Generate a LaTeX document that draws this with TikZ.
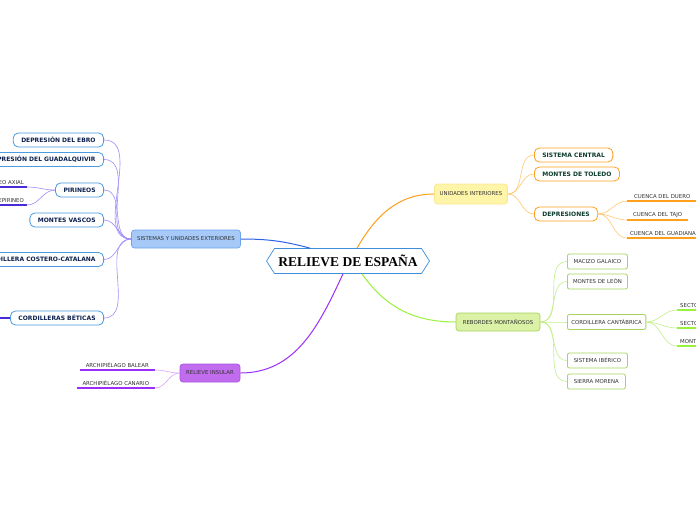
\documentclass[tikz,border=0pt]{standalone}
\usepackage{fontspec}
\setmainfont{DejaVu Sans}
\newfontfamily\titlefont{Liberation Serif}
\usetikzlibrary{shapes.symbols}
\definecolor{rootc}{HTML}{3C8ED8}
\definecolor{navy}{HTML}{0B1F4D}
\definecolor{sistfill}{HTML}{A6C9F7}
\definecolor{sistline}{HTML}{6FA3EE}
\definecolor{sistlink}{HTML}{2F62E8}
\definecolor{sistsub}{HTML}{4A9BE0}
\definecolor{sistthin}{HTML}{A08CFA}
\definecolor{sistleaf}{HTML}{4B2AD8}
\definecolor{intfill}{HTML}{FFF5A8}
\definecolor{intline}{HTML}{FBE690}
\definecolor{orange}{HTML}{FF9F1A}
\definecolor{orthin}{HTML}{FFC870}
\definecolor{dgreen}{HTML}{0D3B2E}
\definecolor{rebfill}{HTML}{DAF1A6}
\definecolor{rebline}{HTML}{A6D45E}
\definecolor{reblink}{HTML}{9BF23C}
\definecolor{rebthin}{HTML}{C4EE8A}
\definecolor{insfill}{HTML}{C16CEF}
\definecolor{insline}{HTML}{A956E2}
\definecolor{inslink}{HTML}{9A2EFA}
\definecolor{insthin}{HTML}{D8A3F5}
\definecolor{leaftxt}{HTML}{333333}
\tikzset{
  root/.style={signal, signal to=west and east, signal pointer angle=115, draw=rootc,
               line width=0.7pt, fill=white, minimum height=25pt, minimum width=163pt,
               inner sep=2pt, font=\titlefont\bfseries\fontsize{13.5}{14}\selectfont},
  topic/.style n args={2}{draw=#1, fill=#2, rounded corners=3pt, line width=0.7pt,
               minimum height=18pt, inner xsep=3pt, text=leaftxt,
               font=\fontsize{5.4}{6}\selectfont},
  sub/.style={draw=#1, fill=white, rounded corners=5pt, line width=0.8pt,
              minimum height=14pt, inner xsep=8pt, font=\bfseries\fontsize{6}{7}\selectfont},
  subr/.style={draw=rebline, fill=white, rounded corners=2pt, line width=0.8pt,
               minimum height=15pt, minimum width=60pt, inner xsep=4pt, text=leaftxt,
               font=\fontsize{5.4}{6}\selectfont},
  leaf/.style={inner xsep=3pt, inner ysep=2pt, text=leaftxt, font=\fontsize{5.4}{6}\selectfont},
  uline/.style={draw=#1, line width=1.4pt},
  link/.style={draw=#1, line width=0.6pt},
  mainlink/.style={draw=#1, line width=1pt},
}

\begin{document}
\begin{tikzpicture}[x=1pt, y=-1pt]
\useasboundingbox (0,0) rectangle (696,520);
\fill[white] (0,0) rectangle (696,520);
\clip (0,0) rectangle (696,520);

% centre
\node[root] (root) at (348,261) {RELIEVE DE ESPAÑA};

% main topics
\node[topic={sistline}{sistfill}, minimum width=109pt] (sistemas) at (186,239) {SISTEMAS Y UNIDADES EXTERIORES};
\node[topic={intline}{intfill}, minimum width=73pt, minimum height=20pt] (interiores) at (471,194) {UNIDADES INTERIORES};
\node[topic={rebline}{rebfill}, minimum width=84pt] (rebordes) at (498,322) {REBORDES MONTAÑOSOS};
\node[topic={insline}{insfill}, minimum width=60pt] (insular) at (210,373) {RELIEVE INSULAR};

\draw[mainlink=sistlink] ([xshift=-38pt]root.north) to[out=165,in=0] (sistemas.east);
\draw[mainlink=orange] ([xshift=9pt]root.north) to[out=60,in=180] (interiores.west);
\draw[mainlink=reblink] ([xshift=14pt]root.south) to[out=-55,in=180] (rebordes.west);
\draw[mainlink=inslink] ([xshift=-5pt]root.south) to[out=-115,in=0] (insular.east);

% sistemas y unidades exteriores
\node[sub=sistsub, text=navy, anchor=east] (ebro) at (104,140) {DEPRESIÓN DEL EBRO};
\node[sub=sistsub, text=navy, anchor=east] (guadalq) at (104,159.5) {DEPRESIÓN DEL GUADALQUIVIR};
\node[sub=sistsub, text=navy, anchor=east] (pirineos) at (104,190) {PIRINEOS};
\node[sub=sistsub, text=navy, anchor=east] (vascos) at (104,220) {MONTES VASCOS};
\node[sub=sistsub, text=navy, anchor=east] (costero) at (104,259.5) {CORDILLERA COSTERO-CATALANA};
\node[sub=sistsub, text=navy, anchor=east] (beticas) at (104,318) {CORDILLERAS BÉTICAS};
\foreach \n in {ebro,guadalq,pirineos,vascos,costero,beticas}
  \draw[link=sistthin] (sistemas.west) to[out=180,in=0] (\n.east);

\node[leaf, anchor=south east] (axial) at (27,187) {PIRINEO AXIAL};
\node[leaf, anchor=south east] (prepir) at (27,205) {PREPIRINEO};
\coordinate (betleaf) at (-30,318);
\foreach \n in {axial,prepir}{
  \draw[uline=sistleaf] (\n.south west) -- (\n.south east);
  \draw[link=sistthin] (pirineos.west) to[out=180,in=0] (\n.south east);
}
\draw[uline=sistleaf] (beticas.west) -- (betleaf);

% unidades interiores
\node[sub=orange, text=dgreen, anchor=west] (central) at (534,155) {SISTEMA CENTRAL};
\node[sub=orange, text=dgreen, anchor=west] (toledo) at (534,174) {MONTES DE TOLEDO};
\node[sub=orange, text=dgreen, anchor=west] (depres) at (534,214) {DEPRESIONES};
\foreach \n in {central,toledo,depres}
  \draw[link=orthin] (interiores.east) to[out=0,in=180] (\n.west);

\node[leaf, anchor=south west, minimum width=70pt, align=left] (duero) at (627,201) {CUENCA DEL DUERO\hfill};
\node[leaf, anchor=south west, minimum width=61pt] (tajo) at (627,220) {CUENCA DEL TAJO};
\node[leaf, anchor=south west] (guadiana) at (627,238) {CUENCA DEL GUADIANA};
\foreach \n in {duero,tajo,guadiana}{
  \draw[uline=orange] (\n.south west) -- (\n.south east);
  \draw[link=orthin] (depres.east) to[out=0,in=180] (\n.south west);
}

% rebordes montañosos
\node[subr, anchor=west] (galaico) at (567,261.5) {MACIZO GALAICO};
\node[subr, anchor=west] (leon) at (567,281.5) {MONTES DE LEÓN};
\node[subr, anchor=west] (cantab) at (567,322) {CORDILLERA CANTÁBRICA};
\node[subr, anchor=west] (iberico) at (567,360.5) {SISTEMA IBÉRICO};
\node[subr, anchor=west, minimum width=58pt] (morena) at (567,381.5) {SIERRA MORENA};
\foreach \n in {galaico,leon,cantab,iberico,morena}
  \draw[link=rebthin] (rebordes.east) to[out=0,in=180] (\n.west);

\node[leaf, anchor=south west] (sectoc) at (677,310) {SECTOR OCCIDENTAL};
\node[leaf, anchor=south west] (sector) at (677,328) {SECTOR ORIENTAL};
\node[leaf, anchor=south west] (montcant) at (677,346) {MONTAÑA CANTÁBRICA};
\foreach \n in {sectoc,sector,montcant}{
  \draw[uline=reblink] (\n.south west) -- (\n.south east);
  \draw[link=rebthin] (cantab.east) to[out=0,in=180] (\n.south west);
}

% relieve insular
\node[leaf, anchor=south east, minimum width=75pt] (balear) at (155,370) {ARCHIPIÉLAGO BALEAR};
\node[leaf, anchor=south east, minimum width=78pt] (canario) at (155,388) {ARCHIPIÉLAGO CANARIO};
\foreach \n in {balear,canario}{
  \draw[uline=inslink] (\n.south west) -- (\n.south east);
  \draw[link=insthin] (insular.west) to[out=180,in=0] (\n.south east);
}
\end{tikzpicture}
\end{document}
